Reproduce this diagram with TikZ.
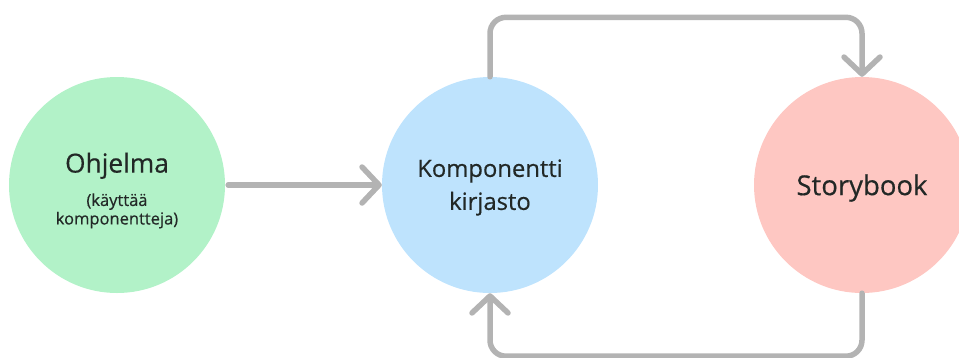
\documentclass[tikz,border=0pt]{standalone}
\usepackage{fontspec}
\setmainfont{Open Sans}[FakeBold=0.45]
\usetikzlibrary{arrows.meta}

\definecolor{progfill}{HTML}{B2F2C8}
\definecolor{libfill}{HTML}{BEE3FD}
\definecolor{storyfill}{HTML}{FEC7C2}
\definecolor{linkgray}{HTML}{B3B3B3}
\definecolor{txt}{HTML}{222826}

\begin{document}
\begin{tikzpicture}[x=1pt,y=-1pt]
	\tikzset{bubble/.style = {shape=circle, minimum size=216pt, inner sep=0pt}}
	\tikzset{caption/.style = {align=center, text=txt, inner sep=0pt}}
	\tikzset{link/.style = {draw=linkgray, line width=5.5pt, line cap=round, line join=round, -{Straight Barb[length=17pt,width=36pt,round]}}}

	\clip (0,0) rectangle (959,357);

	\node[bubble, fill=progfill, label={[caption, yshift=-5.5pt, font=\fontsize{16.5}{18.5}\selectfont]center:{{\fontsize{26.3}{30}\selectfont Ohjelma}\\[13.5pt](käyttää\\komponentteja)}}] (Prog) at (117,185) {};
	\node[bubble, fill=libfill, label={[caption, yshift=-2.5pt, font=\fontsize{23.8}{33}\selectfont]center:{Komponentti\\kirjasto}}] (Lib) at (490,185) {};
	\node[bubble, fill=storyfill, label={[caption, yshift=-3pt, font=\fontsize{27.5}{32}\selectfont]center:Storybook}] (Story) at (862,185) {};

	\draw[link, shorten <=3pt] (Prog) -- (Lib);

	\draw[link, rounded corners=16pt] (Lib.north) -- ++(0,-59.5) -| (Story.north);
	\draw[link, rounded corners=16pt] (Story.south) -- ++(0,63) -| (Lib.south);

\end{tikzpicture}
\end{document}
